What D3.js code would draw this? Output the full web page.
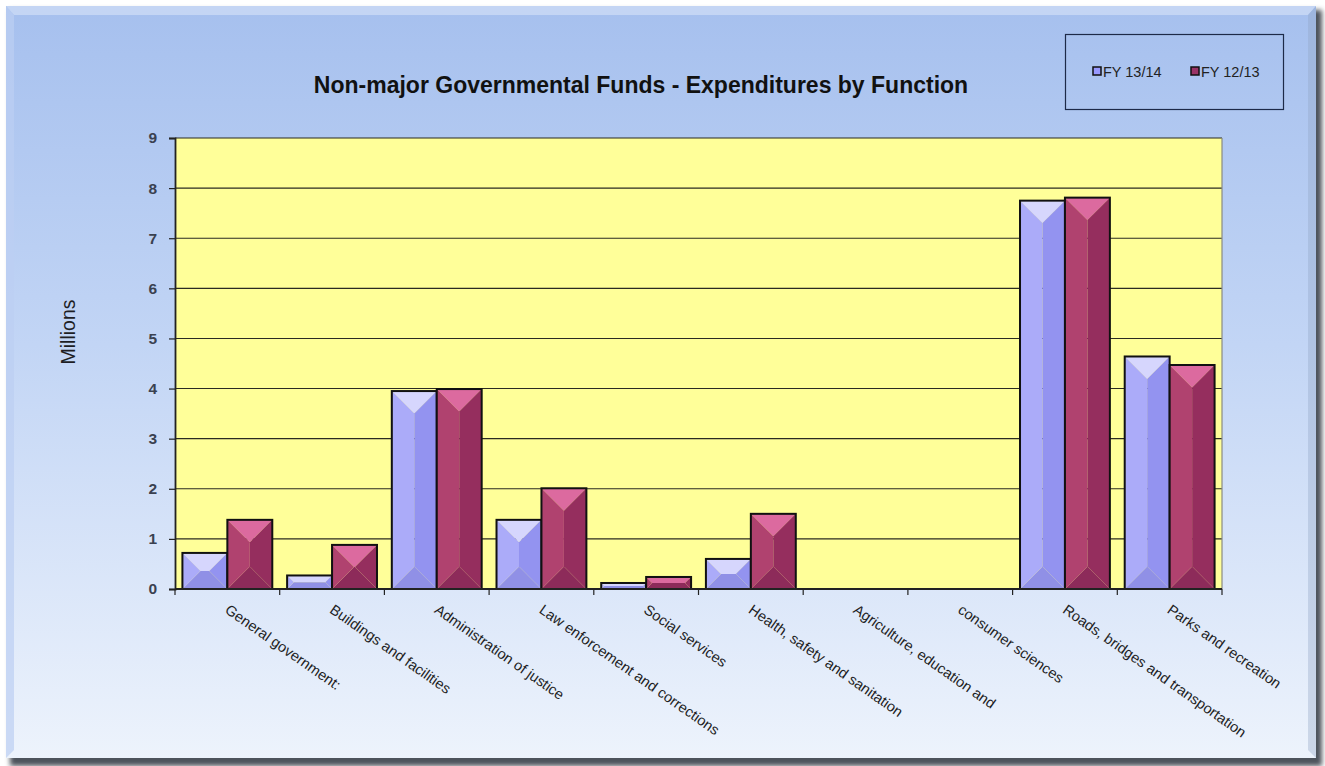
<!DOCTYPE html>
<html>
<head>
<meta charset="utf-8">
<script src="https://cdn.jsdelivr.net/npm/d3@7"></script>
<style>
  html, body { margin: 0; padding: 0; background: #ffffff; }
  svg { display: block; font-family: Arial, "Liberation Sans", Helvetica, sans-serif; }
</style>
</head>
<body>
<svg id="chart" width="1325" height="766"></svg>
<script>
// Expenditures by function, in millions of dollars
const categories = [
  "General government:",
  "Buildings and facilities",
  "Administration of justice",
  "Law enforcement and corrections",
  "Social services",
  "Health, safety and sanitation",
  "Agriculture, education and",
  "consumer sciences",
  "Roads, bridges and transportation",
  "Parks and recreation"
];
const seriesNames = ["FY 13/14", "FY 12/13"];
const fy1314 = [0.72, 0.27, 3.95, 1.38, 0.12, 0.60, 0, 0, 7.75, 4.64];
const fy1213 = [1.38, 0.88, 3.99, 2.01, 0.24, 1.50, 0, 0, 7.81, 4.47];
const yTicks = [0, 1, 2, 3, 4, 5, 6, 7, 8, 9];
const titleText = "Non-major Governmental Funds - Expenditures by Function";
const yAxisTitle = "Millions";

const seriesValues = [fy1314, fy1213];

// Bevel face shades per series: base, top, left, right, bottom
const palette = [
  { base: "#9999ff", top: "#d6d6fd", left: "#ababf9", right: "#9393f0", bottom: "#9090e6" },
  { base: "#993366", top: "#dc6a9f", left: "#b0426f", right: "#952e5e", bottom: "#8d2b5a" }
];

const svg = d3.select("#chart");
const W = 1325, H = 766;
const defs = svg.append("defs");

// Panel background gradient
const bg = defs.append("linearGradient").attr("id", "panelGrad")
  .attr("x1", 0).attr("y1", 0).attr("x2", 0).attr("y2", 1);
bg.append("stop").attr("offset", "0%").attr("stop-color", "#a6c0ee");
bg.append("stop").attr("offset", "45%").attr("stop-color", "#c2d5f5");
bg.append("stop").attr("offset", "100%").attr("stop-color", "#edf3fc");

const shadowBlur = defs.append("filter").attr("id", "shadowBlur")
  .attr("x", "-5%").attr("y", "-5%").attr("width", "110%").attr("height", "110%");
shadowBlur.append("feGaussianBlur").attr("stdDeviation", 2.5);

// Drop shadow and panel
svg.append("rect").attr("x", 10).attr("y", 10).attr("width", W - 13).attr("height", H - 10)
  .attr("fill", "#4e535c").attr("filter", "url(#shadowBlur)");
svg.append("rect").attr("x", 6).attr("y", 6).attr("width", W - 15).attr("height", H - 14)
  .attr("fill", "url(#panelGrad)");
// Bevel highlights on the panel edges
svg.append("path")
  .attr("d", `M6,6 L${W - 9},6 L${W - 17},15 L14,15 Z`)
  .attr("fill", "#cddcf6").attr("opacity", 0.75);
svg.append("path")
  .attr("d", `M6,6 L14,15 L14,${H - 16} L6,${H - 8} Z`)
  .attr("fill", "#bccff2").attr("opacity", 0.7);
svg.append("path")
  .attr("d", `M${W - 9},6 L${W - 17},15 L${W - 17},${H - 16} L${W - 9},${H - 8} Z`)
  .attr("fill", "#8fa3c4").attr("opacity", 0.35);

// Plot area
const plot = { left: 175, right: 1222, top: 138, bottom: 589 };

const x = d3.scaleBand().domain(categories).range([plot.left, plot.right]).paddingInner(0).paddingOuter(0);
const x1 = d3.scaleBand().domain(seriesNames).range([0, x.bandwidth()]).paddingInner(0).paddingOuter(0.165);
const y = d3.scaleLinear().domain([0, 9]).range([plot.bottom, plot.top]);

svg.append("rect")
  .attr("x", plot.left).attr("y", plot.top)
  .attr("width", plot.right - plot.left).attr("height", plot.bottom - plot.top)
  .attr("fill", "#ffff99");

// Gridlines
svg.append("g").selectAll("line").data(yTicks.filter(t => t > 0)).join("line")
  .attr("x1", plot.left).attr("x2", plot.right)
  .attr("y1", d => y(d)).attr("y2", d => y(d))
  .attr("stroke", "#2b2b22").attr("stroke-width", 1.1);

// Right border of plot area
svg.append("line")
  .attr("x1", plot.right).attr("x2", plot.right)
  .attr("y1", plot.top).attr("y2", plot.bottom)
  .attr("stroke", "#8a8a80").attr("stroke-width", 1.2);

// Bars with bevelled faces
const bars = [];
categories.forEach((c, i) => {
  seriesNames.forEach((s, j) => {
    const v = seriesValues[j][i];
    if (v > 0) bars.push({ c, s, j, v });
  });
});

const barG = svg.append("g");
bars.forEach(b => {
  const x0 = x(b.c) + x1(b.s);
  const w = x1.bandwidth();
  const y0 = y(b.v);
  const h = y(0) - y0;
  const d = Math.min(w, h) / 2;
  const col = palette[b.j];
  const g = barG.append("g");
  const face = (pts, fill) => g.append("path")
    .attr("d", "M" + pts.map(p => p.join(",")).join("L") + "Z")
    .attr("fill", fill);
  face([[x0, y0], [x0 + w, y0], [x0 + w - d, y0 + d], [x0 + d, y0 + d]], col.top);
  face([[x0, y0 + h], [x0 + w, y0 + h], [x0 + w - d, y0 + h - d], [x0 + d, y0 + h - d]], col.bottom);
  face([[x0, y0], [x0 + d, y0 + d], [x0 + d, y0 + h - d], [x0, y0 + h]], col.left);
  face([[x0 + w, y0], [x0 + w - d, y0 + d], [x0 + w - d, y0 + h - d], [x0 + w, y0 + h]], col.right);
  if (w - 2 * d > 0 && h - 2 * d > 0) {
    g.append("rect").attr("x", x0 + d).attr("y", y0 + d)
      .attr("width", w - 2 * d).attr("height", h - 2 * d).attr("fill", col.base);
  }
  g.append("rect").attr("x", x0).attr("y", y0).attr("width", w).attr("height", h)
    .attr("fill", "none").attr("stroke", "#111").attr("stroke-width", 2);
});

// Y axis
const yAxis = svg.append("g")
  .attr("transform", `translate(${plot.left},0)`)
  .call(d3.axisLeft(y).tickValues(yTicks).tickFormat(d3.format("d")).tickSize(6).tickPadding(12));
yAxis.select(".domain").attr("stroke", "#222").attr("stroke-width", 1.8);
yAxis.selectAll(".tick line").attr("stroke", "#222").attr("stroke-width", 1.2);
yAxis.selectAll(".tick text")
  .attr("fill", "#3a4150").attr("font-size", 15.5).attr("font-weight", "bold")
  .attr("font-family", "Arial, 'Liberation Sans', sans-serif");

// X axis line and boundary ticks
const xAxisG = svg.append("g");
xAxisG.append("line")
  .attr("x1", plot.left).attr("x2", plot.right)
  .attr("y1", plot.bottom).attr("y2", plot.bottom)
  .attr("stroke", "#222").attr("stroke-width", 1.8);
const boundaries = categories.map(c => x(c)).concat([x(categories[categories.length - 1]) + x.bandwidth()]);
xAxisG.selectAll("line.tk").data(boundaries).join("line").attr("class", "tk")
  .attr("x1", d => d).attr("x2", d => d)
  .attr("y1", plot.bottom).attr("y2", plot.bottom + 6)
  .attr("stroke", "#222").attr("stroke-width", 1.2);

// Category labels, slanted
xAxisG.selectAll("text.cat").data(categories).join("text").attr("class", "cat")
  .attr("transform", d => `translate(${x(d) + x.bandwidth() / 2 + 3},${plot.bottom + 14}) rotate(35)`)
  .attr("dy", "0.75em")
  .attr("text-anchor", "start")
  .attr("font-size", 14.6)
  .attr("fill", "#1e1e24")
  .text(d => d);

// Title
svg.append("text")
  .attr("x", 641).attr("y", 93)
  .attr("text-anchor", "middle")
  .attr("font-size", 23).attr("font-weight", "bold")
  .attr("fill", "#111")
  .text(titleText);

// Y axis title
svg.append("text")
  .attr("transform", `translate(75,332) rotate(-90)`)
  .attr("text-anchor", "middle")
  .attr("font-size", 19.5)
  .attr("fill", "#1e1e24")
  .text(yAxisTitle);

// Legend
const legend = svg.append("g");
legend.append("rect")
  .attr("x", 1065.5).attr("y", 34.5).attr("width", 218).attr("height", 75)
  .attr("fill", "none").attr("stroke", "#1d2a48").attr("stroke-width", 1.2);
const legendX = d3.scalePoint().domain(seriesNames).range([1093, 1191]);
seriesNames.forEach((s, j) => {
  const lx = legendX(s);
  legend.append("rect")
    .attr("x", lx).attr("y", 67).attr("width", 8).attr("height", 8)
    .attr("fill", palette[j].base).attr("stroke", "#111").attr("stroke-width", 1.5);
  legend.append("text")
    .attr("x", lx + 10).attr("y", 77)
    .attr("font-size", 14.5).attr("fill", "#222")
    .text(s);
});
</script>
</body>
</html>
